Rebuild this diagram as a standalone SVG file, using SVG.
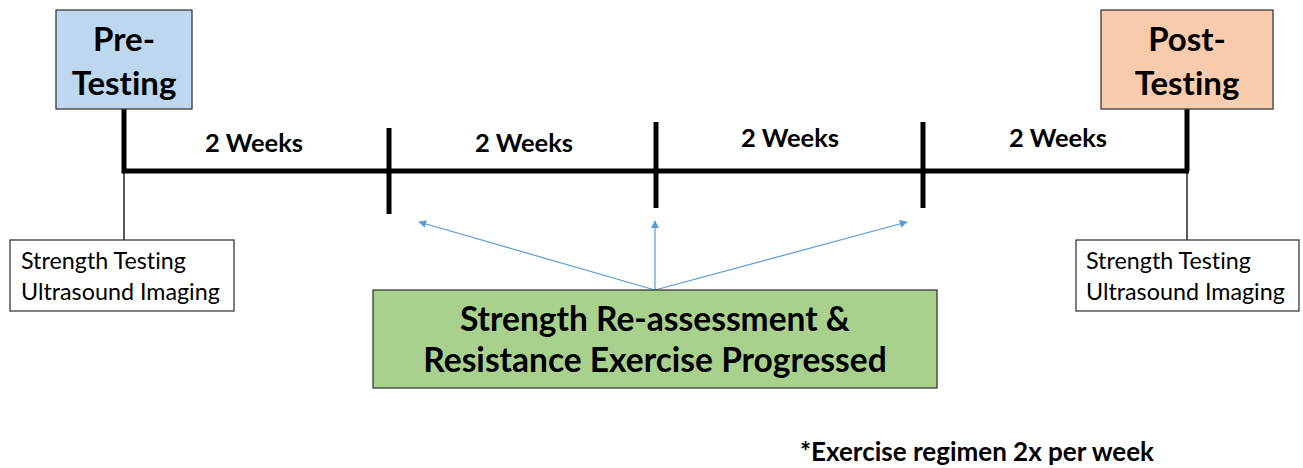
<svg xmlns="http://www.w3.org/2000/svg" width="1303" height="468" viewBox="0 0 1303 468">
  <style>
    text { font-family: Lato, "Liberation Sans", sans-serif; fill: #000; font-variant-ligatures: none; }
    .head { font-size: 33px; font-weight: bold; text-anchor: middle; }
    .weeks { font-size: 25.5px; font-weight: bold; text-anchor: middle; }
    .note { font-size: 23.3px; }
    .green { font-size: 33.5px; font-weight: bold; text-anchor: middle; }
    .foot { font-size: 26px; font-weight: bold; }
    .box { stroke: #3a3a3a; stroke-width: 1.3; }
    .thick { stroke: #000; stroke-width: 5; fill: none; }
    .thin { stroke: #000; stroke-width: 1.3; fill: none; }
    .blue { stroke: #5B9BD5; stroke-width: 1.2; fill: none; marker-end: url(#arrow); }
  </style>
  <defs>
    <marker id="arrow" viewBox="0 0 10 10" refX="9" refY="5" markerWidth="8" markerHeight="8" markerUnits="userSpaceOnUse" orient="auto">
      <path d="M0,0 L10,5 L0,10 z" fill="#5B9BD5"/>
    </marker>
  </defs>
  <rect width="1303" height="468" fill="#fff"/>

  <g id="connectors">
    <!-- main timeline -->
    <path class="thick" d="M124,109 V171 H1189"/>
    <path class="thick" d="M1187,109 V171"/>
    <!-- ticks -->
    <line class="thick" x1="389" y1="128" x2="389" y2="214"/>
    <line class="thick" x1="656" y1="122" x2="656" y2="208"/>
    <line class="thick" x1="923" y1="122" x2="923" y2="208"/>
    <!-- leaders to the testing notes -->
    <line class="thin" x1="124" y1="172" x2="124" y2="240"/>
    <line class="thin" x1="1187" y1="172" x2="1187" y2="240"/>
    <!-- progression arrows -->
    <line class="blue" x1="655" y1="290" x2="419" y2="222"/>
    <line class="blue" x1="655" y1="290" x2="655" y2="221"/>
    <line class="blue" x1="655" y1="290" x2="907" y2="222"/>
  </g>

  <g id="pre-testing">
    <rect class="box" x="56" y="10" width="136" height="99" fill="#BDD7EE"/>
    <text class="head" x="124" y="51">Pre-</text>
    <text class="head" x="124" y="95">Testing</text>
  </g>

  <g id="post-testing">
    <rect class="box" x="1101" y="10" width="172" height="99" fill="#F8CBAD"/>
    <text class="head" x="1187" y="51">Post-</text>
    <text class="head" x="1187" y="95">Testing</text>
  </g>

  <g id="period-labels">
    <text class="weeks" x="254" y="152">2 Weeks</text>
    <text class="weeks" x="524" y="152">2 Weeks</text>
    <text class="weeks" x="790" y="147">2 Weeks</text>
    <text class="weeks" x="1058" y="147">2 Weeks</text>
  </g>

  <g id="pre-measures">
    <rect class="box" x="10" y="240" width="224" height="71" fill="#fff"/>
    <text class="note" x="21" y="269">Strength Testing</text>
    <text class="note" x="21" y="300">Ultrasound Imaging</text>
  </g>

  <g id="post-measures">
    <rect class="box" x="1076" y="240" width="223" height="71" fill="#fff"/>
    <text class="note" x="1086" y="269">Strength Testing</text>
    <text class="note" x="1086" y="300">Ultrasound Imaging</text>
  </g>

  <g id="reassessment">
    <rect class="box" x="373" y="290" width="564" height="98" fill="#A9D18E"/>
    <text class="green" x="655" y="331">Strength Re-assessment &amp;</text>
    <text class="green" x="655" y="372">Resistance Exercise Progressed</text>
  </g>

  <g id="footnote">
    <text class="foot" x="800" y="461">*Exercise regimen 2x per week</text>
  </g>
</svg>
